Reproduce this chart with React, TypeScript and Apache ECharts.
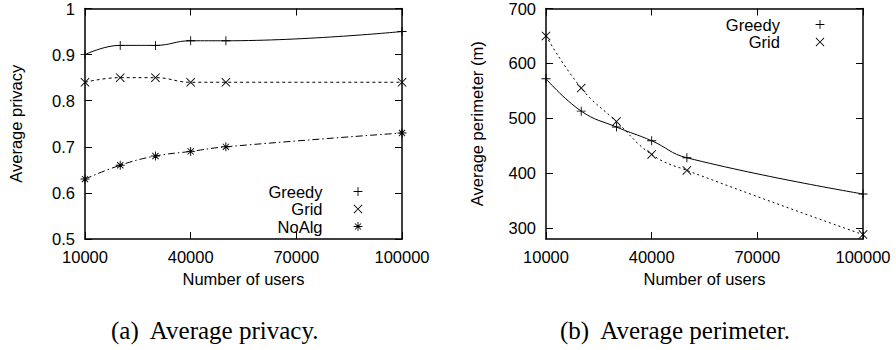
import React, { useEffect, useRef } from "react";
import * as echarts from "echarts";

const users = [10000, 20000, 30000, 40000, 50000, 100000];
const privacyGreedy = [0.9, 0.92, 0.92, 0.93, 0.93, 0.95];
const privacyGrid = [0.84, 0.85, 0.85, 0.84, 0.84, 0.84];
const privacyNoAlg = [0.63, 0.66, 0.68, 0.69, 0.7, 0.73];
const perimeterGreedy = [572, 513, 484, 459, 428, 362];
const perimeterGrid = [650, 555, 494, 434, 405, 288];

const xTicks = [10000, 40000, 70000, 100000];
const privacyTicks = [0.5, 0.6, 0.7, 0.8, 0.9, 1];
const perimeterTicks = [300, 400, 500, 600, 700];

const PLUS = "path://M4.5,0L5.5,0L5.5,4.5L10,4.5L10,5.5L5.5,5.5L5.5,10L4.5,10L4.5,5.5L0,5.5L0,4.5L4.5,4.5Z";
const CROSS = "path://M0,0.7L0.7,0L5,4.3L9.3,0L10,0.7L5.7,5L10,9.3L9.3,10L5,5.7L0.7,10L0,9.3L4.3,5Z";
const STAR =
  "path://M4.5,0L5.5,0L5.5,4.5L10,4.5L10,5.5L5.5,5.5L5.5,10L4.5,10L4.5,5.5L0,5.5L0,4.5L4.5,4.5Z" +
  "M1.2,1.9L1.9,1.2L5,4.3L8.1,1.2L8.8,1.9L5.7,5L8.8,8.1L8.1,8.8L5,5.7L1.9,8.8L1.2,8.1L4.3,5Z";

const FONT = "Liberation Sans";
const FS = 16.5;
const BLACK = "#000";

function pairs(xs: number[], ys: number[]) {
  return xs.map((x, i) => [x, ys[i]]);
}

export default function App() {
  const ref = useRef<HTMLDivElement>(null);
  useEffect(() => {
    document.body.style.margin = "0";
    const chart = echarts.init(ref.current!, null, { renderer: "svg" });

    const grids = [
      { left: 85, top: 7, width: 317, height: 232 },
      { left: 546, top: 7, width: 317, height: 232 },
    ];

    const tickStyle = { show: true, inside: true, length: 7, lineStyle: { color: BLACK, width: 1 } };
    const lineStyle = { show: true, onZero: false, lineStyle: { color: BLACK, width: 1.5 } };
    const plain = (v: number) => String(v);

    const xAxisFor = (gi: number) => [
      {
        type: "value",
        gridIndex: gi,
        position: "bottom",
        min: 10000,
        max: 100000,
        axisLine: lineStyle,
        axisTick: { ...tickStyle, customValues: xTicks },
        axisLabel: { customValues: xTicks, formatter: plain, color: BLACK, fontFamily: FONT, fontSize: FS, margin: 9 },
        splitLine: { show: false },
        name: "Number of users",
        nameLocation: "middle",
        nameGap: 31,
        nameTextStyle: { color: BLACK, fontFamily: FONT, fontSize: FS },
      },
      {
        type: "value",
        gridIndex: gi,
        position: "top",
        min: 10000,
        max: 100000,
        axisLine: lineStyle,
        axisTick: { ...tickStyle, customValues: xTicks },
        axisLabel: { show: false },
        splitLine: { show: false },
      },
    ];

    const yAxisFor = (gi: number, min: number, max: number, ticks: number[], name: string) => [
      {
        type: "value",
        gridIndex: gi,
        position: "left",
        min,
        max,
        axisLine: lineStyle,
        axisTick: { ...tickStyle, customValues: ticks },
        axisLabel: { customValues: ticks, formatter: plain, color: BLACK, fontFamily: FONT, fontSize: FS, margin: 10 },
        splitLine: { show: false },
        name,
        nameLocation: "middle",
        nameGap: 61,
        nameTextStyle: { color: BLACK, fontFamily: FONT, fontSize: FS },
      },
      {
        type: "value",
        gridIndex: gi,
        position: "right",
        min,
        max,
        axisLine: lineStyle,
        axisTick: { ...tickStyle, customValues: ticks },
        axisLabel: { show: false },
        splitLine: { show: false },
      },
    ];

    const mkSeries = (
      name: string,
      data: number[][],
      symbol: string,
      type: string | number[],
      xi: number,
      yi: number
    ) => ({
      name,
      type: "line",
      xAxisIndex: xi,
      yAxisIndex: yi,
      data,
      smooth: 0.45,
      symbol,
      symbolSize: 9,
      showSymbol: true,
      itemStyle: { color: BLACK },
      lineStyle: { color: BLACK, width: 1, type },
      z: 3,
    });

    const legendCommon = {
      orient: "vertical",
      align: "right",
      padding: 0,
      itemWidth: 9,
      itemHeight: 11,
      itemGap: 0.5,
      textStyle: { color: BLACK, fontFamily: FONT, fontSize: FS, lineHeight: 16, padding: [0, 26, 0, 0] },
      lineStyle: { width: 0, opacity: 0 },
      selectedMode: false,
    };

    const option = {
      animation: false,
      backgroundColor: "#fff",
      grid: grids,
      xAxis: [...xAxisFor(0), ...xAxisFor(1)],
      yAxis: [
        ...yAxisFor(0, 0.5, 1, privacyTicks, "Average privacy"),
        ...yAxisFor(1, 280, 700, perimeterTicks, "Average perimeter (m)"),
      ],
      legend: [
        { ...legendCommon, data: ["Greedy", "Grid", "NoAlg"], right: 533.5, top: 183 },
        { ...legendCommon, data: ["Greedy ", "Grid "], right: 71.5, top: 16 },
      ],
      series: [
        mkSeries("Greedy", pairs(users, privacyGreedy), PLUS, "solid", 0, 0),
        mkSeries("Grid", pairs(users, privacyGrid), CROSS, [3, 3], 0, 0),
        mkSeries("NoAlg", pairs(users, privacyNoAlg), STAR, [7, 3, 1.5, 3], 0, 0),
        mkSeries("Greedy ", pairs(users, perimeterGreedy), PLUS, "solid", 2, 2),
        mkSeries("Grid ", pairs(users, perimeterGrid), CROSS, [2, 3], 2, 2),
      ],
      graphic: [
        {
          type: "text",
          left: 214 - 103,
          top: 318,
          style: { text: "(a)  Average privacy.", fill: BLACK, font: "25px 'Liberation Serif'" },
        },
        {
          type: "text",
          left: 675 - 115,
          top: 318,
          style: { text: "(b)  Average perimeter.", fill: BLACK, font: "25px 'Liberation Serif'" },
        },
      ],
    };

    chart.setOption(option as any);
    return () => chart.dispose();
  }, []);

  return (
    <div
      ref={ref}
      style={{ position: "absolute", left: 0, top: 0, width: 896, height: 350, background: "#fff" }}
    />
  );
}
